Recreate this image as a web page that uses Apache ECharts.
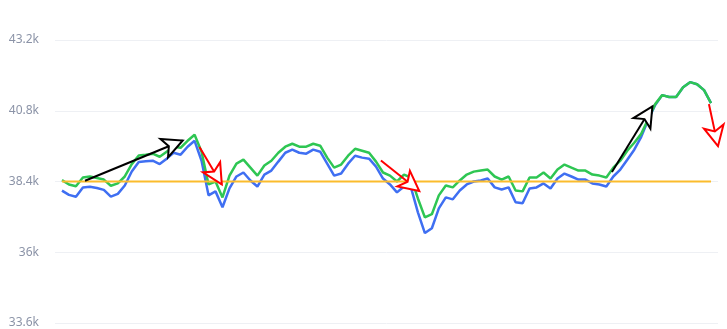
<!DOCTYPE html>
<html>
<head>
<meta charset="utf-8">
<script src="https://cdn.jsdelivr.net/npm/echarts@6/dist/echarts.min.js"></script>
<style>
  html, body { margin: 0; padding: 0; background: #fff; }
  #chart { width: 727px; height: 329px; }
</style>
</head>
<body>
<div id="chart"></div>
<script>
// price series (one point per step)
const blueValues = [
  38090, 37945, 37885, 38200, 38220, 38180, 38115, 37885, 37980, 38265,
  38740, 39065, 39085, 39105, 38990, 39175, 39375, 39310, 39580, 39780,
  39105, 37930, 38065, 37525, 38165, 38570, 38705, 38435, 38230, 38635,
  38770, 39075, 39375, 39480, 39375, 39345, 39480, 39410, 39005, 38600,
  38670, 39005, 39275, 39210, 39175, 38905, 38500, 38300, 38030, 38230,
  38200, 37355, 36650, 36815, 37490, 37860, 37795, 38095, 38300, 38400,
  38435, 38500, 38200, 38130, 38200, 37695, 37660, 38165, 38200, 38335,
  38165, 38500, 38670, 38570, 38465, 38465, 38335, 38300, 38230, 38570,
  38805, 39140, 39480, 39915, 40490, 40995, 41330, 41265, 41265, 41600,
  41770, 41700, 41500, 41060
];
const greenValues = [
  38445, 38300, 38240, 38535, 38570, 38520, 38465, 38255, 38335, 38570,
  38990, 39285, 39310, 39345, 39240, 39410, 39580, 39545, 39780, 39985,
  39410, 38300, 38400, 37860, 38600, 39005, 39140, 38870, 38600, 38940,
  39105, 39375, 39580, 39680, 39580, 39580, 39680, 39615, 39210, 38870,
  38975, 39275, 39510, 39445, 39375, 39075, 38705, 38600, 38400, 38635,
  38535, 37825, 37185, 37290, 37930, 38265, 38200, 38435, 38635, 38735,
  38770, 38805, 38570, 38465, 38570, 38095, 38065, 38535, 38535, 38705,
  38500, 38805, 38975, 38870, 38770, 38770, 38635, 38600, 38535, 38870,
  39105, 39445, 39715, 40015, 40520, 41025, 41330, 41265, 41265, 41600,
  41770, 41700, 41500, 41060
];
const baseLevel = 38400;

// trend arrows: [fromIndex, fromValue, toIndex, toValue]
const blackArrows = [
  [3.3, 38425, 17.3, 39790],
  [78.8, 38725, 84.6, 40950]
];
const redArrows = [
  [19.7, 39570, 22.9, 38300],
  [45.7, 39115, 51.2, 38075],
  [92.7, 41025, 94.0, 39600]
];

const yTicks = { min: 33600, max: 43200, step: 2400 };

function toPairs(arr) {
  return arr.map((v, i) => [i, v]);
}
function toMarkLines(list) {
  return list.map(a => [{ coord: [a[0], a[1]] }, { coord: [a[2], a[3]] }]);
}

const chart = echarts.init(document.getElementById('chart'));

const option = {
  animation: false,
  grid: { left: 55, right: 9, top: 40, bottom: 4 },
  xAxis: {
    type: 'value',
    min: -1,
    max: blueValues.length,
    show: false
  },
  yAxis: {
    type: 'value',
    min: yTicks.min,
    max: yTicks.max,
    interval: yTicks.step,
    axisLine: { show: false },
    axisTick: { show: false },
    axisLabel: {
      color: '#8b93a7',
      fontSize: 12,
      margin: 16,
      fontFamily: 'Noto Sans',
      formatter: v => (v / 1000) + 'k'
    },
    splitLine: { lineStyle: { color: '#eef0f4', width: 1 } }
  },
  series: [
    {
      type: 'line',
      data: toPairs(blueValues),
      showSymbol: false,
      lineStyle: { color: '#3f6ff2', width: 2.5 },
      itemStyle: { color: '#3f6ff2' },
      z: 2
    },
    {
      type: 'line',
      data: toPairs(greenValues),
      showSymbol: false,
      lineStyle: { color: '#2ec653', width: 2.5 },
      itemStyle: { color: '#2ec653' },
      z: 3
    },
    {
      type: 'line',
      data: blueValues.map((v, i) => [i, baseLevel]),
      showSymbol: false,
      lineStyle: { color: '#fbbc2c', width: 2 },
      itemStyle: { color: '#fbbc2c' },
      z: 4
    },
    {
      type: 'line',
      data: [],
      clip: false,
      z: 5,
      markLine: {
        silent: true,
        symbol: ['none', 'emptyArrow'],
        symbolSize: [15, 20],
        label: { show: false },
        lineStyle: { color: '#000', width: 2, type: 'solid' },
        data: toMarkLines(blackArrows)
      }
    },
    {
      type: 'line',
      data: [],
      clip: false,
      z: 5,
      markLine: {
        silent: true,
        symbol: ['none', 'emptyArrow'],
        symbolSize: [15, 20],
        label: { show: false },
        lineStyle: { color: '#ff0000', width: 2, type: 'solid' },
        data: toMarkLines(redArrows)
      }
    }
  ]
};

chart.setOption(option);
</script>
</body>
</html>
